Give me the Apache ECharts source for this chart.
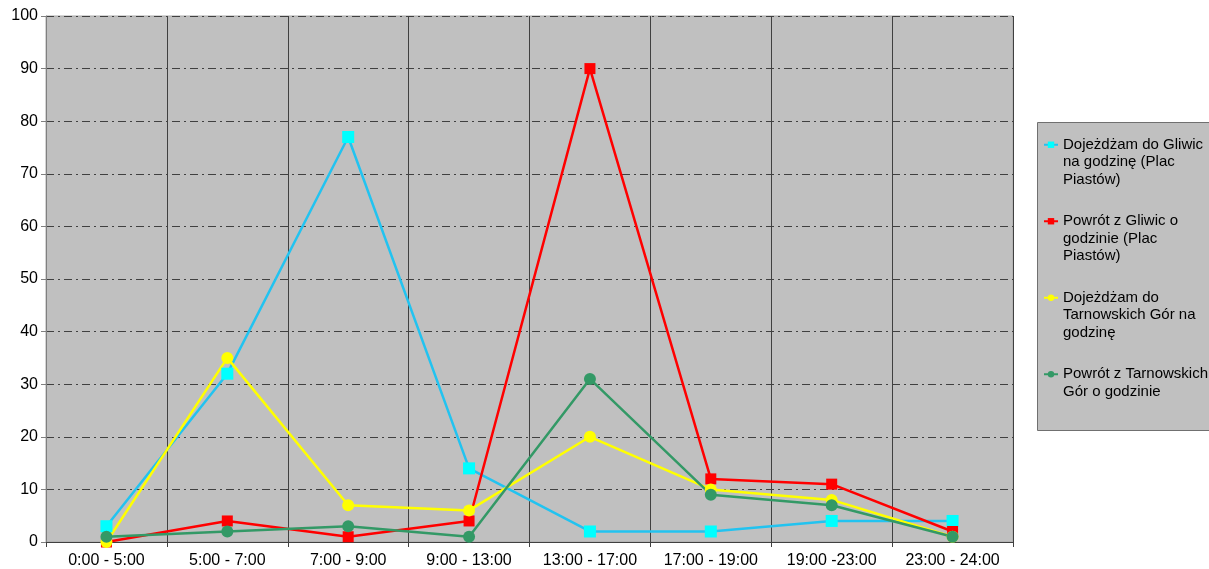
<!DOCTYPE html>
<html>
<head>
<meta charset="utf-8">
<script src="https://cdn.jsdelivr.net/npm/echarts@6/dist/echarts.min.js"></script>
<style>
  html, body { margin: 0; padding: 0; background: #fff; }
  #chart { width: 1209px; height: 569px; }
</style>
</head>
<body>
<div id="chart"></div>
<script>
// dane
var categories = ['0:00 - 5:00', '5:00 - 7:00', '7:00 - 9:00', '9:00 - 13:00',
  '13:00 - 17:00', '17:00 - 19:00', '19:00 -23:00', '23:00 - 24:00'];

var seriesNames = [
  'Dojeżdżam do Gliwic na godzinę (Plac Piastów)',
  'Powrót z Gliwic o godzinie (Plac Piastów)',
  'Dojeżdżam do Tarnowskich Gór na godzinę',
  'Powrót z Tarnowskich Gór o godzinie'
];

// tekst legendy z podziałem na linie (puste linie wyrównują ikonę do pierwszej linii)
var legendLabels = [
  ' \n \nDojeżdżam do Gliwic\nna godzinę (Plac\nPiastów)',
  ' \n \nPowrót z Gliwic o\ngodzinie (Plac\nPiastów)',
  ' \n \nDojeżdżam do\nTarnowskich Gór na\ngodzinę',
  ' \n \nPowrót z Tarnowskich\nGór o godzinie\n '
];

var gliwiceTam = [3, 32, 77, 14, 2, 2, 4, 4];
var gliwicePowrot = [0, 4, 1, 4, 90, 12, 11, 2];
var tgTam = [0, 35, 7, 6, 20, 10, 8, 1];
var tgPowrot = [1, 2, 3, 1, 31, 9, 7, 1];

var yTicks = { min: 0, max: 100, interval: 10 };

var font = 'Liberation Sans, Arial, sans-serif';

var chart = echarts.init(document.getElementById('chart'));

function lineSeries(name, data, lineColor, markColor, symbol, size) {
  return {
    name: name,
    type: 'line',
    data: data,
    symbol: symbol,
    symbolSize: size,
    showSymbol: true,
    lineStyle: { color: lineColor, width: 2.5 },
    itemStyle: { color: markColor },
    emphasis: { disabled: true },
    animation: false
  };
}

var option = {
  animation: false,
  grid: {
    left: 46, right: 196, top: 16, bottom: 27,
    show: true,
    backgroundColor: '#C0C0C0',
    borderWidth: 1,
    borderColor: '#A8A8A8'
  },
  graphic: [{
    type: 'rect',
    left: 1037, top: 122,
    shape: { width: 200, height: 308 },
    style: { fill: '#C0C0C0', stroke: '#707070', lineWidth: 1 },
    z: 0
  }],
  legend: {
    orient: 'vertical',
    left: 1043,
    top: 101,
    padding: 0,
    itemGap: -11,
    itemWidth: 14,
    itemHeight: 8,
    data: seriesNames,
    formatter: function (name) {
      return legendLabels[seriesNames.indexOf(name)];
    },
    textStyle: {
      fontFamily: font,
      fontSize: 15,
      color: '#000',
      lineHeight: 17.5
    },
    selectedMode: false,
    z: 5
  },
  xAxis: {
    type: 'category',
    data: categories,
    boundaryGap: true,
    axisLine: { lineStyle: { color: '#404040', width: 1 } },
    axisTick: { show: true, length: 5, lineStyle: { color: '#404040' } },
    axisLabel: { fontFamily: font, fontSize: 16, color: '#000', margin: 11, interval: 0 },
    splitLine: { show: true, lineStyle: { color: '#404040', width: 1 } }
  },
  yAxis: {
    type: 'value',
    min: yTicks.min,
    max: yTicks.max,
    interval: yTicks.interval,
    axisLine: { show: true, lineStyle: { color: '#808080' } },
    axisTick: { show: true, length: 5, lineStyle: { color: '#808080' } },
    axisLabel: { fontFamily: font, fontSize: 16, color: '#000', margin: 8 },
    splitLine: { show: true, lineStyle: { color: '#404040', width: 1, type: [8, 4, 2, 4] } }
  },
  series: [
    lineSeries(seriesNames[0], gliwiceTam, '#22C3F0', '#00FFFF', 'rect', 12),
    lineSeries(seriesNames[1], gliwicePowrot, '#FF0000', '#FF0000', 'rect', 11),
    lineSeries(seriesNames[2], tgTam, '#FFFF00', '#FFFF00', 'circle', 12),
    lineSeries(seriesNames[3], tgPowrot, '#339966', '#339966', 'circle', 12)
  ]
};

chart.setOption(option);
</script>
</body>
</html>
